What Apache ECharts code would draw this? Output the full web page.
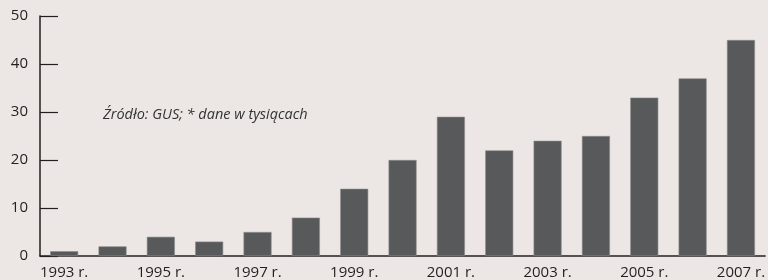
<!DOCTYPE html>
<html>
<head>
<meta charset="utf-8">
<script src="https://cdn.jsdelivr.net/npm/echarts@6/dist/echarts.min.js"></script>
<style>
html, body { margin: 0; padding: 0; background: #ece7e4; }
#chart { width: 768px; height: 280px; }
</style>
</head>
<body>
<div id="chart"></div>
<script>
// dane
var years = ['1993 r.', '1994 r.', '1995 r.', '1996 r.', '1997 r.', '1998 r.', '1999 r.', '2000 r.',
    '2001 r.', '2002 r.', '2003 r.', '2004 r.', '2005 r.', '2006 r.', '2007 r.'];
var values = [1, 2, 4, 3, 5, 8, 14, 20, 29, 22, 24, 25, 33, 37, 45];
var note = 'Źródło: GUS; * dane w tysiącach';

var myChart = echarts.init(document.getElementById('chart'));

var option = {
    backgroundColor: '#ece7e4',
    animation: false,
    textStyle: { fontFamily: 'Open Sans' },
    grid: { left: 40, right: 0, top: 16, bottom: 23 },
    xAxis: {
        type: 'category',
        data: years,
        axisLine: { lineStyle: { color: '#231f20', width: 1.5 } },
        axisTick: { inside: true, length: 5, lineStyle: { color: '#231f20' } },
        axisLabel: {
            interval: 1,
            color: '#231f20',
            fontSize: 15,
            margin: 9
        }
    },
    yAxis: {
        type: 'value',
        min: 0,
        max: 50,
        interval: 10,
        splitLine: { show: false },
        axisLine: { show: true, lineStyle: { color: '#231f20', width: 1.5 } },
        axisTick: { show: true, inside: true, length: 18, lineStyle: { color: '#231f20', width: 1.2 } },
        axisLabel: { color: '#231f20', fontSize: 15, margin: 12 }
    },
    graphic: [{
        type: 'text',
        left: 103,
        top: 107,
        style: {
            text: note,
            fill: '#333',
            font: 'italic 14.5px "Open Sans"'
        }
    }],
    series: [{
        type: 'bar',
        data: values,
        barWidth: 28,
        itemStyle: {
            color: '#58595b',
            borderColor: '#8c8c8c',
            borderWidth: 0.6
        }
    }]
};

myChart.setOption(option);
</script>
</body>
</html>
